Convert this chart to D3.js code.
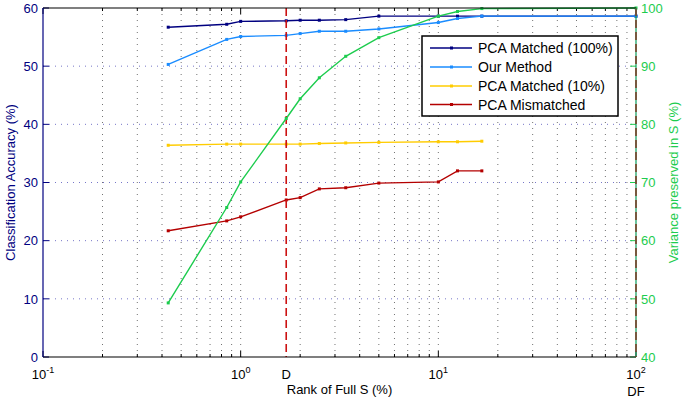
<!DOCTYPE html>
<html><head><meta charset="utf-8">
<script src="https://cdn.jsdelivr.net/npm/d3@7"></script>
<style>
body{margin:0;background:#fff;}
text{font-family:"Liberation Sans",Arial,Helvetica,sans-serif;}
</style></head>
<body><svg id="c" width="682" height="400"></svg>
<script>
// ---- data ----
const rankPct = [0.43, 0.85, 1.0, 1.7, 2.0, 2.5, 3.4, 5.0, 10, 12.5, 16.6, 100];
const pcaMatched100 = [56.7, 57.2, 57.7, 57.8, 57.9, 57.9, 58.0, 58.6, 58.6, 58.6, 58.6, 58.6];
const ourMethod = [50.3, 54.6, 55.1, 55.3, 55.6, 56.0, 56.0, 56.4, 57.5, 58.2, 58.6, 58.6];
const pcaMatched10 = [36.4, 36.6, 36.6, 36.6, 36.6, 36.7, 36.8, 36.9, 37.0, 37.0, 37.1];
const pcaMismatched = [21.7, 23.4, 24.1, 27.0, 27.4, 28.9, 29.1, 29.9, 30.1, 32.0, 32.0];
const variance = [49.3, 65.7, 70.1, 81.0, 84.4, 88.0, 91.7, 94.9, 98.6, 99.4, 99.9, 100];
const markD = 1.7, markDF = 100;
const leftTicks = [0, 10, 20, 30, 40, 50, 60];
const rightTicks = [40, 50, 60, 70, 80, 90, 100];
const xMajor = [0.1, 1, 10, 100];
const xMajorExp = ["-1", "0", "1", "2"];
const seriesNames = ["PCA Matched (100%)", "Our Method", "PCA Matched (10%)", "PCA Mismatched"];

// ---- styles ----
const NAVY = "#000080", BLUE = "#1a8cff", YEL = "#ffcc00", RED = "#b40000", GRN = "#1dcc4e";
const L = 43, R = 636, T = 8, B = 357;

const svg = d3.select("#c");
const x = d3.scaleLog().domain([0.1, 100]).range([L, R]);
const yL = d3.scaleLinear().domain([0, 60]).range([B, T]);
const yR = d3.scaleLinear().domain([40, 100]).range([B, T]);

// x ticks (minor + major)
const xAll = [];
for (let e = -1; e < 2; e++) for (let m = 1; m < 10; m++) xAll.push(m * Math.pow(10, e));
xAll.push(100);

// grid
const g = svg.append("g");
xAll.filter(v => v > 0.1 && v < 100).forEach(v => {
  g.append("line").attr("x1", x(v)).attr("x2", x(v)).attr("y1", T).attr("y2", B)
    .attr("stroke", "#444").attr("stroke-width", 1).attr("stroke-dasharray", "1,5").attr("opacity", 0.75);
});
leftTicks.filter(v => v > 0 && v < 60).forEach(v => {
  g.append("line").attr("x1", L).attr("x2", R).attr("y1", yL(v)).attr("y2", yL(v))
    .attr("stroke", "#5555bb").attr("stroke-width", 1).attr("stroke-dasharray", "1,5").attr("opacity", 0.8);
});

// tick marks x (bottom & top)
xAll.forEach(v => {
  const len = xMajor.includes(v) ? 6 : 3;
  g.append("line").attr("x1", x(v)).attr("x2", x(v)).attr("y1", B).attr("y2", B - len).attr("stroke", "#000");
  g.append("line").attr("x1", x(v)).attr("x2", x(v)).attr("y1", T).attr("y2", T + len).attr("stroke", "#000");
});
leftTicks.forEach(v => {
  g.append("line").attr("x1", L).attr("x2", L + 6).attr("y1", yL(v)).attr("y2", yL(v)).attr("stroke", NAVY);
});
rightTicks.forEach(v => {
  g.append("line").attr("x1", R).attr("x2", R - 6).attr("y1", yR(v)).attr("y2", yR(v)).attr("stroke", GRN);
});

// series
function drawSeries(vals, yS, color) {
  const pts = vals.map((v, i) => [rankPct[i], v]);
  svg.append("path").datum(pts)
    .attr("d", d3.line().x(d => x(d[0])).y(d => yS(d[1])))
    .attr("fill", "none").attr("stroke", color).attr("stroke-width", 1.4);
  svg.append("g").selectAll("rect").data(pts).join("rect")
    .attr("x", d => x(d[0]) - 1.5).attr("y", d => yS(d[1]) - 1.5)
    .attr("width", 3).attr("height", 3).attr("fill", color);
}
drawSeries(pcaMatched100, yL, NAVY);
drawSeries(ourMethod, yL, BLUE);
drawSeries(pcaMatched10, yL, YEL);
drawSeries(pcaMismatched, yL, RED);

// dashed markers
[markD, markDF].forEach(v => {
  svg.append("line").attr("x1", x(v)).attr("x2", x(v)).attr("y1", T).attr("y2", B)
    .attr("stroke", "#cc1111").attr("stroke-width", 1.6).attr("stroke-dasharray", "8,4");
});

// variance on right axis
drawSeries(variance, yR, GRN);

// axis lines
svg.append("line").attr("x1", L).attr("x2", R).attr("y1", B).attr("y2", B).attr("stroke", "#000").attr("stroke-width", 1.2);
svg.append("line").attr("x1", L).attr("x2", R).attr("y1", T).attr("y2", T).attr("stroke", "#000").attr("stroke-width", 1.2);
svg.append("line").attr("x1", L).attr("x2", L).attr("y1", T).attr("y2", B).attr("stroke", NAVY).attr("stroke-width", 1.2);
svg.append("line").attr("x1", R).attr("x2", R).attr("y1", T).attr("y2", B).attr("stroke", "#0a9a5a").attr("stroke-width", 1.2);
svg.append("line").attr("x1", R).attr("x2", R).attr("y1", T).attr("y2", B)
  .attr("stroke", "#aa2222").attr("stroke-width", 1).attr("stroke-dasharray", "8,4").attr("opacity", 0.7);

// tick labels
leftTicks.forEach(v => {
  svg.append("text").attr("x", L - 5).attr("y", yL(v)).attr("dy", "0.36em").attr("text-anchor", "end")
    .attr("font-size", 13).attr("fill", NAVY).text(v);
});
rightTicks.forEach(v => {
  svg.append("text").attr("x", R + 5).attr("y", yR(v)).attr("dy", "0.36em").attr("text-anchor", "start")
    .attr("font-size", 13).attr("fill", GRN).text(v);
});
xMajor.forEach((v, i) => {
  const t = svg.append("text").attr("x", x(v)).attr("y", 379).attr("text-anchor", "middle")
    .attr("font-size", 13).attr("fill", "#000");
  t.append("tspan").text("10");
  t.append("tspan").attr("dy", -6).attr("font-size", 9).text(xMajorExp[i]);
});
svg.append("text").attr("x", x(markD)).attr("y", 379).attr("text-anchor", "middle").attr("font-size", 13).text("D");
svg.append("text").attr("x", x(markDF)).attr("y", 396).attr("text-anchor", "middle").attr("font-size", 13).text("DF");

// axis labels
svg.append("text").attr("x", (L + R) / 2).attr("y", 394).attr("text-anchor", "middle")
  .attr("font-size", 13).text("Rank of Full S (%)");
svg.append("text").attr("transform", `translate(15,${(T + B) / 2}) rotate(-90)`).attr("text-anchor", "middle")
  .attr("font-size", 13).attr("fill", NAVY).text("Classification Accuracy (%)");
svg.append("text").attr("transform", `translate(678,${(T + B) / 2}) rotate(-90)`).attr("text-anchor", "middle")
  .attr("font-size", 13).attr("fill", GRN).text("Variance preserved in S (%)");

// legend
const lg = svg.append("g");
lg.append("rect").attr("x", 422).attr("y", 36).attr("width", 196).attr("height", 80)
  .attr("fill", "#fff").attr("stroke", "#000").attr("stroke-width", 1.5);
const lColors = [NAVY, BLUE, YEL, RED];
const lY = [48, 67, 86, 104.5];
seriesNames.forEach((n, i) => {
  lg.append("line").attr("x1", 430).attr("x2", 472).attr("y1", lY[i]).attr("y2", lY[i])
    .attr("stroke", lColors[i]).attr("stroke-width", 1.4);
  lg.append("rect").attr("x", 450).attr("y", lY[i] - 1.5).attr("width", 3).attr("height", 3).attr("fill", lColors[i]);
  lg.append("text").attr("x", 478).attr("y", lY[i]).attr("dy", "0.36em").attr("font-size", 14).text(n);
});
</script></body></html>
